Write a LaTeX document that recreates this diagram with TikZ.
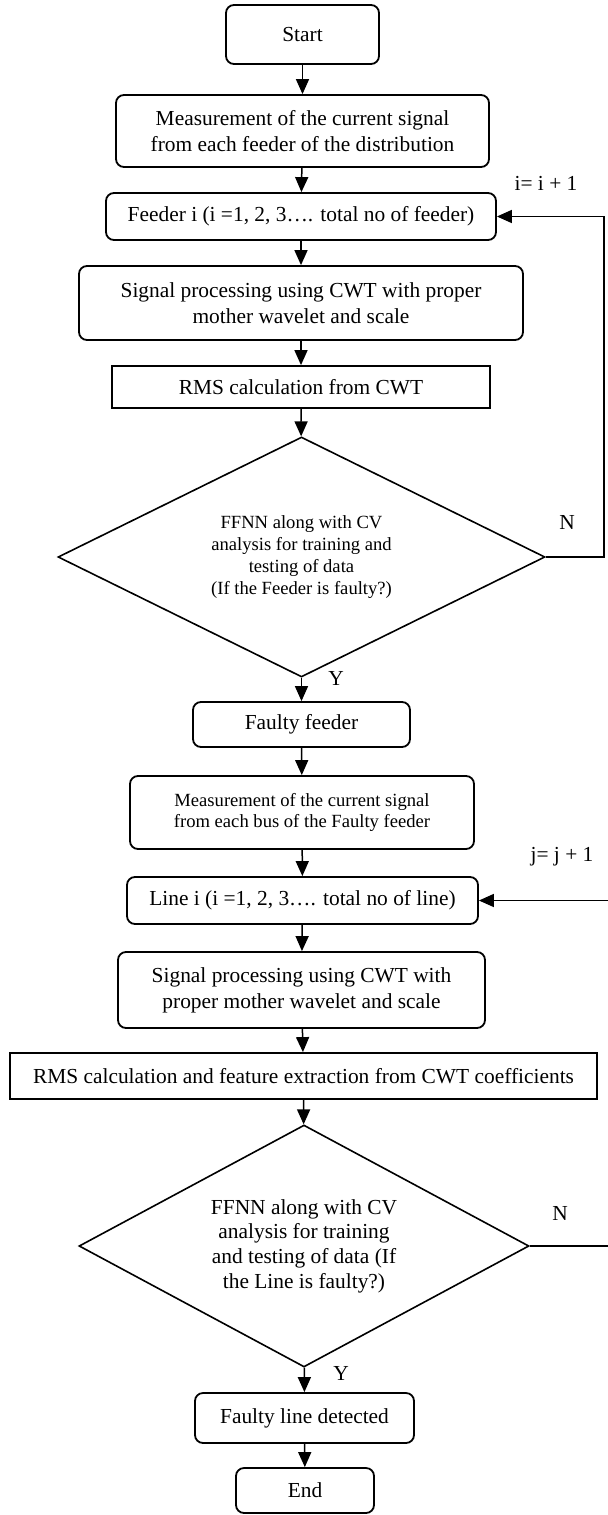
\documentclass[tikz,border=0pt]{standalone}
\usepackage{fontspec}
\setmainfont{Liberation Serif}
\usetikzlibrary{shapes.geometric,arrows.meta}

\tikzset{
 block/.style={draw, line width=0.9pt, rounded corners=4pt, align=center, inner sep=0pt, font=\fontsize{10.7}{13}\selectfont},
 plain/.style={draw, line width=0.9pt, align=center, inner sep=0pt, font=\fontsize{10.7}{13}\selectfont},
 decision/.style={draw, diamond, aspect=2, line width=0.8pt, align=center, inner sep=0pt},
 lbl/.style={inner sep=0pt, font=\fontsize{10.7}{13}\selectfont},
 flow/.style={line width=0.75pt, -{Triangle[length=7.5pt,width=6.5pt]}}
}

\begin{document}
\begin{tikzpicture}[x=0.5pt, y=-0.5pt]
 \useasboundingbox (0, 0) rectangle (608, 1515);

 \draw (302.5, 34.5) node[block, minimum width=76.5pt, minimum height=29.5pt] (start) {Start};
 \draw (302.5, 131) node[block, minimum width=186.5pt, minimum height=36pt] (meas1) {Measurement of the current signal\\from each feeder of the distribution};
 \draw (301, 216.5) node[block, minimum width=195pt, minimum height=23.5pt] (feeder) {Feeder i (i =1, 2, 3…. total no of feeder)};
 \draw (301, 303) node[block, minimum width=222pt, minimum height=37pt] (cwt1) {Signal processing using CWT with proper\\mother wavelet and scale};
 \draw (301, 387) node[plain, minimum width=189pt, minimum height=21pt] (rms1) {RMS calculation from CWT};
 \draw (301.5, 557) node[decision, minimum width=243.5pt, minimum height=120pt, font=\fontsize{9.3}{11}\selectfont] (ffnn1) {FFNN along with CV\\analysis for training and\\testing of data\\(If the Feeder is faulty?)};
 \draw (301.5, 724.5) node[block, minimum width=108.5pt, minimum height=22.5pt] (faulty) {Faulty feeder};
 \draw (302, 812.5) node[block, minimum width=172pt, minimum height=36.5pt, font=\fontsize{9.3}{10.3}\selectfont] (meas2) {Measurement of the current signal\\from each bus of the Faulty feeder};
 \draw (302.5, 900.5) node[block, minimum width=175.5pt, minimum height=23.5pt] (line) {Line i (i =1, 2, 3…. total no of line)};
 \draw (301.5, 990) node[block, minimum width=183.5pt, minimum height=38pt] (cwt2) {Signal processing using CWT with\\proper mother wavelet and scale};
 \draw (303.5, 1076) node[plain, minimum width=293.5pt, minimum height=23pt] (rms2) {RMS calculation and feature extraction from CWT coefficients};
 \draw (304, 1246) node[decision, minimum width=225pt, minimum height=121pt, font=\fontsize{10.7}{12.3}\selectfont] (ffnn2) {FFNN along with CV\\analysis for training\\and testing of data (If\\the Line is faulty?)};
 \draw (304.5, 1418) node[block, minimum width=109.5pt, minimum height=25pt] (detected) {Faulty line detected};
 \draw (305, 1490.5) node[block, minimum width=69pt, minimum height=22.5pt] (end) {End};

 \draw (546, 183) node[lbl] (inc1) {i= i + 1};
 \draw (567, 522) node[lbl] (no1) {N};
 \draw (336, 678) node[lbl] (yes1) {Y};
 \draw (562, 857) node[lbl] (inc2) {j= j + 1};
 \draw (560, 1213) node[lbl] (no2) {N};
 \draw (341, 1373) node[lbl] (yes2) {Y};

 \coordinate (loop1) at (604, 216.5);
 \coordinate (loop2) at (612, 900.5);

 \draw[flow] (start) -- (meas1);
 \draw[flow] (meas1) -- (feeder);
 \draw[flow] (feeder) -- (cwt1);
 \draw[flow] (cwt1) -- (rms1);
 \draw[flow] (rms1) -- (ffnn1);
 \draw[flow] (ffnn1) -- (faulty);
 \draw[flow] (ffnn1.east) -| (loop1) -- (feeder.east);
 \draw[flow] (faulty) -- (meas2);
 \draw[flow] (meas2) -- (line);
 \draw[flow] (line) -- (cwt2);
 \draw[flow] (cwt2) -- (rms2);
 \draw[flow] (rms2) -- (ffnn2);
 \draw[flow] (ffnn2) -- (detected);
 \draw[flow] (ffnn2.east) -| (loop2) -- (line.east);
 \draw[flow] (detected) -- (end);
\end{tikzpicture}
\end{document}
